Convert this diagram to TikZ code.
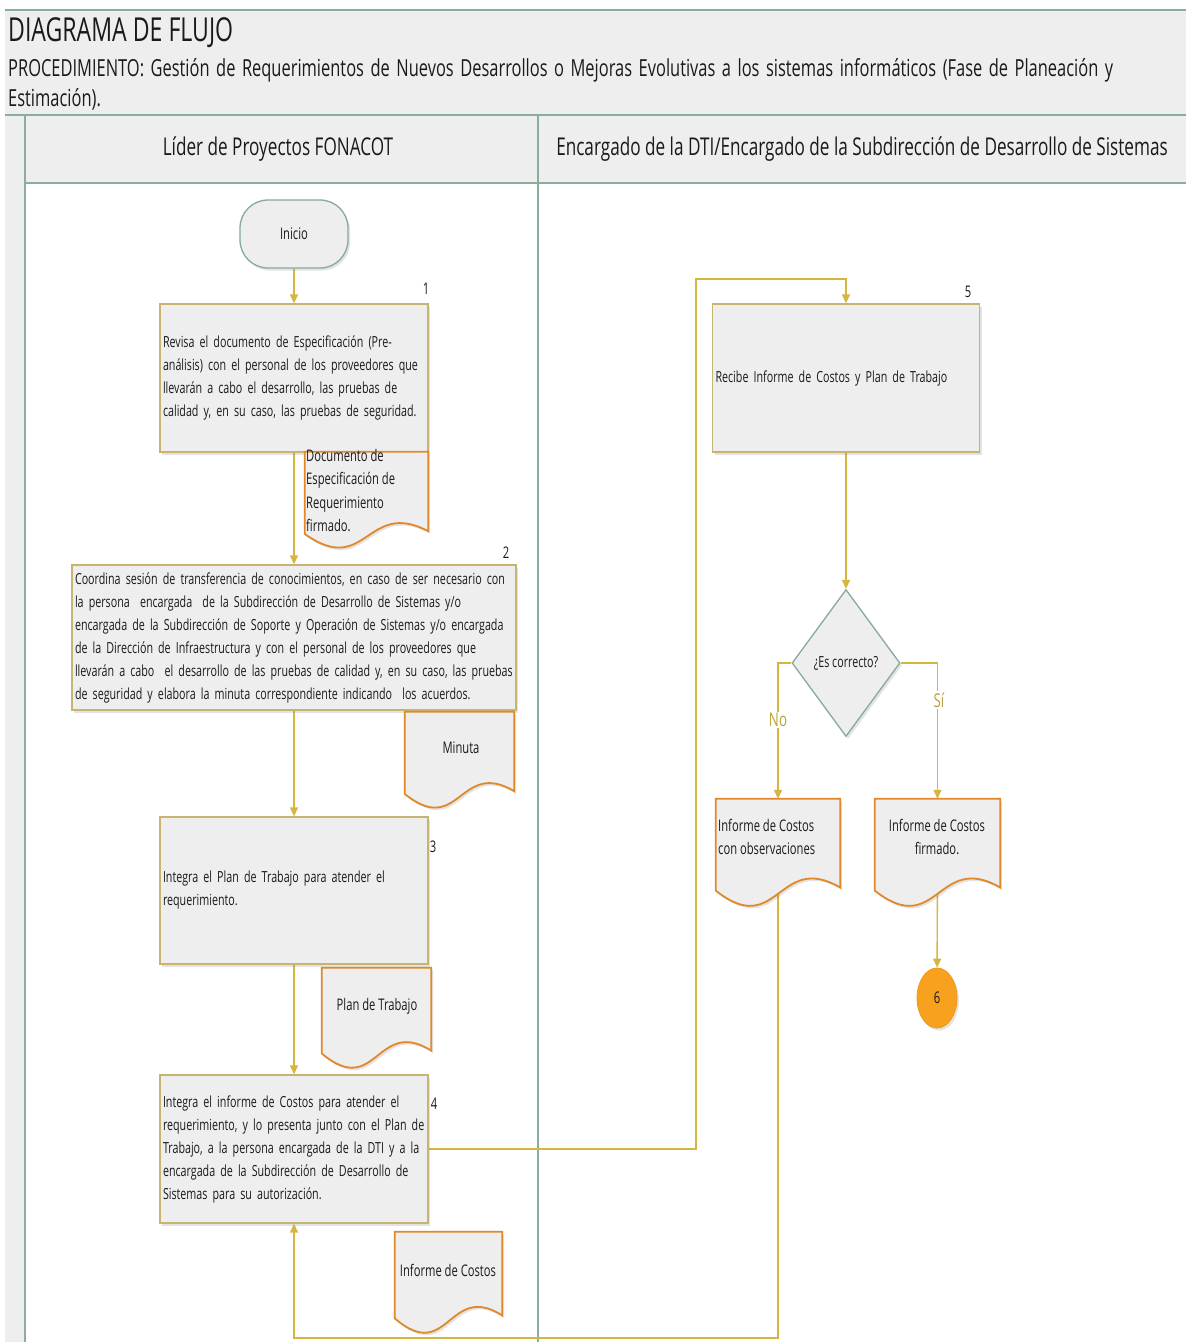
\documentclass[tikz,border=0pt]{standalone}
\usepackage{fontspec}
\setmainfont{Open Sans}[FakeStretch=0.7]
\usetikzlibrary{shapes.geometric,arrows.meta,calc,shadows}
\pgfdeclarelayer{back}
\pgfdeclarelayer{bg}
\pgfsetlayers{back,bg,main}
\definecolor{lanegreen}{HTML}{8AAE9C}
\definecolor{hdrfill}{HTML}{EEEEEE}
\definecolor{flow}{HTML}{D4B640}
\definecolor{boxline}{HTML}{C8B472}
\definecolor{docline}{HTML}{E0882A}
\definecolor{boxfill}{HTML}{EEEEEE}
\definecolor{termline}{HTML}{86AA9C}
\definecolor{orangefill}{HTML}{F7A11E}
\definecolor{orangeline}{HTML}{EE9A1C}
\definecolor{txt}{HTML}{1A1A1A}
\definecolor{labelgold}{HTML}{B9A23A}
\newcommand\boxfont{\fontsize{15.3}{23}\selectfont}
\newcommand\docfont{\fontsize{16}{23.5}\selectfont}
\newcommand\numfont{\fontsize{16}{16}\selectfont}
\newcommand\docoutline[1]{%
  \path[docshape] let \p1=(#1.north west), \p2=(#1.south east),
    \n1={\x2-\x1}, \n2={\y1-\y2} in
    (\x1,\y1) -- (\x2,\y1) -- (\x2,{\y2+0.15*\n2})
    .. controls ({\x1+0.5*\n1},{\y2+0.5*\n2}) and ({\x1+0.5*\n1},{\y2-0.35*\n2}) ..
    (\x1,{\y2+0.12*\n2}) -- cycle;}
\tikzset{
  lane/.style={draw=lanegreen, line width=1.6pt},
  flowline/.style={draw=flow, line width=1.4pt},
  arr/.style={flowline, -{Triangle[length=9pt,width=8pt]}},
  softshadow/.style={drop shadow={shadow xshift=2pt,shadow yshift=-2.5pt,opacity=.22}},
  proc/.style={rectangle, draw=boxline, line width=1.3pt, fill=boxfill, softshadow,
    align=left, inner xsep=3pt, inner ysep=2pt, text=txt, font=\boxfont},
  docnode/.style={rectangle, inner sep=0pt, draw=none},
  docshape/.style={draw=docline, line width=1.8pt, fill=boxfill, softshadow},
  doctext/.style={text=txt, font=\docfont, inner sep=0pt},
  num/.style={text=txt, font=\numfont, inner sep=0pt},
  term/.style={rectangle, rounded corners=28pt, draw=termline, line width=1.3pt,
    fill=boxfill, minimum width=108pt, minimum height=68pt, font=\docfont, text=txt, softshadow},
  decision/.style={diamond, draw=termline, line width=1.3pt, fill=boxfill,
    minimum width=108pt, minimum height=147pt, inner sep=0pt, font=\boxfont, text=txt, softshadow},
  endconn/.style={ellipse, fill=orangefill, draw=orangeline, line width=0.8pt,
    minimum width=40pt, minimum height=60pt, inner sep=0pt, font=\numfont, text=txt, softshadow},
  branch/.style={fill=white, text=labelgold, font=\fontsize{19}{19}\selectfont, inner sep=1.5pt},
}
\begin{document}
\begin{tikzpicture}[x=1pt,y=-1pt]
\useasboundingbox (0,0) rectangle (1186,1342);
\begin{pgfonlayer}{back}
  \fill[white] (0,0) rectangle (1186,1342);
  \fill[hdrfill] (5,10) rectangle (1186,115);
  \fill[hdrfill] (5,115) rectangle (25,1342);
  \fill[hdrfill] (25,115) rectangle (1186,183);
  \draw[lane, line width=1.2pt] (5,10) -- (1186,10);
  \draw[lane, line width=1.2pt] (5,115) -- (1186,115);
  \draw[lane, line width=2.4pt] (25,183) -- (1186,183);
  \draw[lane] (25,115) -- (25,1342);
  \draw[lane] (538,115) -- (538,1342);
\end{pgfonlayer}

% header texts
\node[anchor=base west, inner sep=0pt, text=txt, font=\fontsize{33}{33}\selectfont] (title) at (8,41) {DIAGRAMA DE FLUJO};
\node[anchor=base west, inner sep=0pt, text=txt, font=\fontsize{23.5}{23.5}\selectfont] (sub1) at (8,76)
  {\makebox[1105pt][s]{PROCEDIMIENTO: Gestión de Requerimientos de Nuevos Desarrollos o Mejoras Evolutivas a los sistemas informáticos (Fase de Planeación y}};
\node[anchor=base west, inner sep=0pt, text=txt, font=\fontsize{23.5}{23.5}\selectfont] (sub2) at (8,106) {Estimación).};
\node[text=txt, font=\fontsize{24.5}{24.5}\selectfont] (lane1) at (278,149) {Líder de Proyectos FONACOT};
\node[text=txt, font=\fontsize{24.5}{24.5}\selectfont] (lane2) at (862,149) {Encargado de la DTI/Encargado de la Subdirección de Desarrollo de Sistemas};

% nodes
\node[term] (inicio) at (294,234) {Inicio};
\node[proc, minimum width=268pt, minimum height=148pt, text width=262pt] (p1) at (294,378)
  {Revisa el documento de Especificación (Pre-\\análisis) con el personal de los proveedores que\\llevarán a cabo el desarrollo, las pruebas de\\calidad y, en su caso, las pruebas de seguridad.};
\node[proc, minimum width=444pt, minimum height=145pt, text width=438pt] (p2) at (294,637.5)
  {Coordina sesión de transferencia de conocimientos, en caso de ser necesario con\\la persona~ encargada~ de la Subdirección de Desarrollo de Sistemas y/o\\encargada de la Subdirección de Soporte y Operación de Sistemas y/o encargada\\de la Dirección de Infraestructura y con el personal de los proveedores que\\llevarán a cabo~ el desarrollo de las pruebas de calidad y, en su caso, las pruebas\\de seguridad y elabora la minuta correspondiente indicando~ los acuerdos.};
\node[proc, minimum width=268pt, minimum height=147pt, text width=262pt] (p3) at (294,890.5)
  {Integra el Plan de Trabajo para atender el\\requerimiento.};
\node[proc, minimum width=268pt, minimum height=148pt, text width=262pt] (p4) at (294,1149)
  {Integra el informe de Costos para atender el\\requerimiento, y lo presenta junto con el Plan de\\Trabajo, a la persona encargada de la DTI y a la\\encargada de la Subdirección de Desarrollo de\\Sistemas para su autorización.};
\node[proc, minimum width=267pt, minimum height=148pt, text width=261pt] (p5) at (846,378)
  {Recibe Informe de Costos y Plan de Trabajo};
\node[decision] (dec) at (846,663) {¿Es correcto?};
\node[endconn] (c6) at (937,998) {6};

% step numbers
\node[num] (n1) at (426,289) {1};
\node[num] (n2) at (506,553) {2};
\node[num] (n3) at (433,847) {3};
\node[num] (n4) at (434,1104) {4};
\node[num] (n5) at (968,292) {5};

% documents
\node[docnode, minimum width=123pt, minimum height=93pt] (d1) at (366.5,498.5) {};
\node[docnode, minimum width=109pt, minimum height=93pt] (d2) at (459.5,758.5) {};
\node[docnode, minimum width=109pt, minimum height=97pt] (d3) at (376.5,1016.5) {};
\node[docnode, minimum width=107pt, minimum height=98pt] (d4) at (448.5,1281) {};
\node[docnode, minimum width=124pt, minimum height=104pt] (dno) at (778,851) {};
\node[docnode, minimum width=125pt, minimum height=104pt] (dsi) at (937.5,851) {};
\foreach \d in {d1,d2,d3,d4,dno,dsi} {\docoutline{\d}}
\node[doctext, anchor=north west, align=left] (t1) at (306,449) {Documento de\\Especificación de\\Requerimiento\\firmado.};
\node[doctext] (t2) at (461,748) {Minuta};
\node[doctext] (t3) at (377,1006) {Plan de Trabajo};
\node[doctext] (t4) at (448,1270) {Informe de Costos};
\node[doctext, anchor=west, align=left] (tno) at (718,837) {Informe de Costos\\con observaciones};
\node[doctext, align=center] (tsi) at (937,837) {Informe de Costos\\firmado.};

% connectors
\coordinate (c45) at (696,279);
\coordinate (cb) at (778,1338);
\begin{pgfonlayer}{bg}
  \draw[arr] (inicio) -- (p1);
  \draw[arr] (p1) -- (p2);
  \draw[arr] (p2) -- (p3);
  \draw[arr] (p3) -- (p4);
  \draw[arr] (p4.east) -| (c45) -| (p5.north);
  \draw[arr] (p5) -- (dec);
  \draw[arr] (dec.west) -| (dno.north);
  \draw[arr] (dec.east) -| (dsi.north);
  \draw[arr] (dsi.center) -- (c6);
  \draw[arr] (dno.center) -- (cb) -| (p4.south);
\end{pgfonlayer}
\node[branch] (lno) at (778,720) {No};
\node[branch] (lsi) at (939,700) {Sí};
\end{tikzpicture}
\end{document}
